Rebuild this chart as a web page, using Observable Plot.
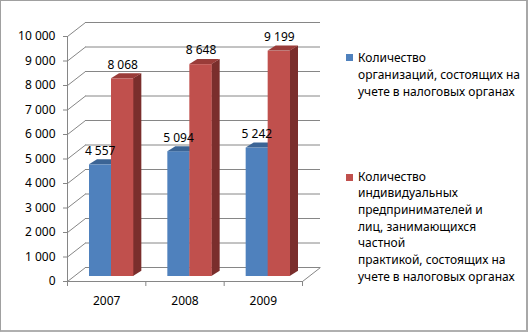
<!DOCTYPE html>
<html><head><meta charset="utf-8">
<script src="https://cdn.jsdelivr.net/npm/d3@7"></script>
<script src="https://cdn.jsdelivr.net/npm/@observablehq/plot@0.6"></script>
<style>
body{margin:0;background:#fff}
#wrap{position:relative;width:528px;height:332px;overflow:hidden;background:#fff}
#chart{position:absolute;left:0;top:0}
#border{position:absolute;left:0;top:0;width:528px;height:332px;box-sizing:border-box;border:1px solid #a0a0a0;border-right:2px solid #a8a8a8;border-bottom:2px solid #b0b0b0;pointer-events:none}
.leg{position:absolute;font-family:"Noto Sans",sans-serif;font-size:12px;color:#000;white-space:nowrap}
.sw{position:absolute;width:7px;height:7px}
</style></head>
<body>
<div id="wrap"><div id="chart"></div><div id="border"></div></div>
<script>
// ---- data ----
const years = ["2007", "2008", "2009"];
const organizations = [4557, 5094, 5242];
const entrepreneurs = [8068, 8648, 9199];
const yTicks = [0, 1000, 2000, 3000, 4000, 5000, 6000, 7000, 8000, 9000, 10000];
const seriesNames = [
  "Количество организаций, состоящих на учете в налоговых органах",
  "Количество индивидуальных предпринимателей и лиц, занимающихся частной практикой, состоящих на учете в налоговых органах"
];
const legendLines1 = ["Количество", "организаций, состоящих на", "учете в налоговых органах"];
const legendLines2 = ["Количество", "индивидуальных", "предпринимателей и", "лиц, занимающихся", "частной", "практикой, состоящих на", "учете в налоговых органах"];
const colors = {blue: "#4F81BD", blueTop: "#3B6495", red: "#C0504D", redTop: "#9A3C39", redSide: "#7A2E2C", grid: "#868686"};

const data = years.map((y, i) => ({year: +y, org: organizations[i], ent: entrepreneurs[i]}));
const fmt = v => d3.format(",")(v).replace(/,/g, "\u00a0");

// ---- layout ----
const W = 528, H = 332;
const mL = 67, mR = 226, mT = 36, mB = 51;
const xDomain = [2006.5, 2009.5];
const yDomain = [0, 10000];
const pxPerX = (W - mL - mR) / (xDomain[1] - xDomain[0]);
const pxPerY = (H - mT - mB) / (yDomain[1] - yDomain[0]);
const WALL_DX = 18, WALL_DY = 14;
const WX = WALL_DX / pxPerX, WY = WALL_DY / pxPerY;
const bandLeft = d => d.year - 0.5, bandRight = d => d.year + 0.5;
const OUT = 17, BW = 22, DEPTH = 8, RISE = 5, BDX = 5, BDY = -5;
const boundaries = [2006.5, 2007.5, 2008.5, 2009.5];

const chart = Plot.plot({
  width: W, height: H,
  marginLeft: mL, marginRight: mR, marginTop: mT, marginBottom: mB,
  style: {fontFamily: "Noto Sans, sans-serif", fontSize: "12px", color: "#000", background: "transparent"},
  x: {domain: xDomain, axis: null},
  y: {domain: yDomain, axis: null},
  marks: [
    Plot.ruleY(yTicks, {x1: xDomain[0] + WX, x2: xDomain[1] + WX, y: d => d + WY, stroke: colors.grid}),
    Plot.link(yTicks, {x1: xDomain[0], y1: d => d, x2: xDomain[0] + WX, y2: d => d + WY, stroke: colors.grid}),
    Plot.link([0], {x1: xDomain[1], y1: d => d, x2: xDomain[1] + WX, y2: d => d + WY, stroke: colors.grid}),
    Plot.ruleY([0], {x1: xDomain[0], x2: xDomain[1], stroke: colors.grid}),
    Plot.ruleX([xDomain[0]], {y1: yDomain[0], y2: yDomain[1], stroke: colors.grid}),
    Plot.axisY({ticks: yTicks, tickFormat: fmt, tickSize: 4, tickPadding: 8, stroke: colors.grid, fill: "#000", label: null, fontSize: 12}),
    Plot.axisX({ticks: boundaries, tickFormat: () => "", tickSize: 5, stroke: colors.grid, label: null}),
    // blue bars
    Plot.rect(data, {x1: bandLeft, x2: bandRight, y1: 0, y2: "org", insetLeft: OUT, insetRight: OUT + BW, dx: BDX, dy: BDY, fill: colors.blue, title: () => seriesNames[0]}),
    Plot.rect(data, {x1: bandLeft, x2: bandRight, y1: "org", y2: "org", insetLeft: OUT, insetRight: OUT + BW, insetTop: -RISE, dx: BDX, dy: BDY, fill: colors.blueTop}),
    // red bars
    Plot.rect(data, {x1: bandLeft, x2: bandRight, y1: 0, y2: "ent", insetLeft: OUT + 2 * BW, insetRight: OUT - DEPTH, dx: BDX, dy: BDY, fill: colors.redSide}),
    Plot.rect(data, {x1: bandLeft, x2: bandRight, y1: 0, y2: "ent", insetLeft: OUT + BW, insetRight: OUT, dx: BDX, dy: BDY, fill: colors.red, title: () => seriesNames[1]}),
    Plot.rect(data, {x1: bandLeft, x2: bandRight, y1: "ent", y2: "ent", insetLeft: OUT + BW, insetRight: OUT, insetTop: -RISE, dx: BDX, dy: BDY, fill: colors.redTop}),
    // value labels
    Plot.text(data, {x: "year", y: "org", text: d => fmt(d.org), dx: -6.5, dy: -19, fill: "#000", fontSize: 12}),
    Plot.text(data, {x: "year", y: "ent", text: d => fmt(d.ent), dx: 16, dy: -19, fill: "#000", fontSize: 12}),
    // category labels
    Plot.text(years, {x: d => +d, y: 0, text: d => d, dy: 20, fill: "#000", fontSize: 12})
  ]
});
document.getElementById("chart").appendChild(chart);

// 3D faces: shear each face about its own front edge
const kSide = -RISE / DEPTH;
const kTop = -DEPTH / RISE;
const groupsByFill = f => [...chart.querySelectorAll("g")].filter(g => (g.getAttribute("fill") || "").toLowerCase() === f.toLowerCase());
groupsByFill(colors.redSide).forEach(g => g.querySelectorAll("rect").forEach(r => {
  const x = +r.getAttribute("x");
  r.setAttribute("transform", `matrix(1 ${kSide} 0 1 0 ${-kSide * x})`);
}));
[colors.blueTop, colors.redTop].forEach(c => groupsByFill(c).forEach(g => g.querySelectorAll("rect").forEach(r => {
  const yb = +r.getAttribute("y") + +r.getAttribute("height");
  r.setAttribute("transform", `matrix(1 0 ${kTop} 1 ${-kTop * yb} 0)`);
})));

// legend
const wrap = document.getElementById("wrap");
function addLegend(lines, color, swTop, textTop, lh) {
  const sw = document.createElement("div");
  sw.className = "sw"; sw.style.left = "346px"; sw.style.top = swTop + "px"; sw.style.background = color;
  wrap.appendChild(sw);
  const t = document.createElement("div");
  t.className = "leg"; t.style.left = "358px"; t.style.top = textTop + "px"; t.style.lineHeight = lh + "px";
  t.innerHTML = lines.join("<br>");
  wrap.appendChild(t);
}
addLegend(legendLines1, colors.blue, 54, 48.5, 17.3);
addLegend(legendLines2, colors.red, 174, 168.5, 16.7);
</script>
</body></html>
